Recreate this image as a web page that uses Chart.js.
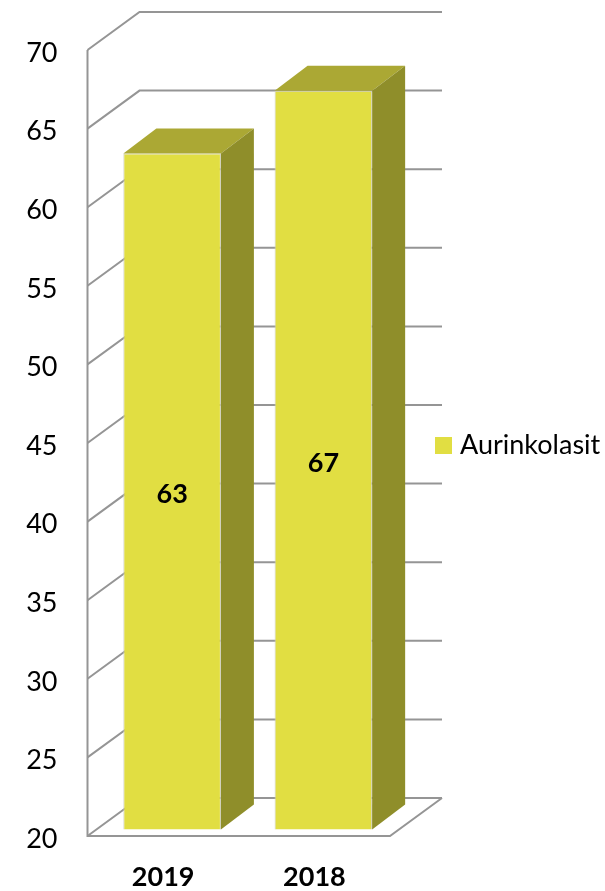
<!DOCTYPE html>
<html>
<head>
<meta charset="utf-8">
<style>
html, body { margin: 0; padding: 0; background: #fff; }
canvas { display: block; }
</style>
<script src="https://cdn.jsdelivr.net/npm/chart.js@4"></script>
</head>
<body>
<canvas id="myChart" width="605" height="891"></canvas>
<script>
const years = ['2019', '2018']
const sunglasses = [63, 67]
const series_name = 'Aurinkolasit'

const FRONT = '#e1de42'
const TOP = '#aba834'
const SIDE = '#8f8e2a'
const GRID = '#959595'
const FONT = 'Lato'

// depth of the back wall and of the bars, in pixels
const WALL = { x: 52, y: 38 }
const BAR_SHIFT = { x: 9, y: 6.5 }
const BAR_DEPTH = { x: 33, y: 25 }

function poly(ctx, pts, fill) {
    ctx.beginPath()
    pts.forEach((p, i) => i ? ctx.lineTo(p[0], p[1]) : ctx.moveTo(p[0], p[1]))
    if (fill) {
        ctx.fillStyle = fill
        ctx.closePath()
        ctx.fill()
    } else {
        ctx.stroke()
    }
}

const walls = {
    id: 'walls',
    beforeLayout(chart) {
        // fixed legend column, so the plot keeps its width
        if (chart.legend && !chart.legend.fixed) {
            const fit = chart.legend.fit
            chart.legend.fit = function () {
                fit.call(this)
                this.width = 215
            }
            chart.legend.fixed = true
        }
    },
    afterLayout(chart) {
        // the top padding pushes the legend down, move it back up
        chart.legend.top -= 25
        chart.legend.bottom -= 25
    },
    beforeDatasetsDraw(chart) {
        const ctx = chart.ctx
        const a = chart.chartArea
        const y_scale = chart.scales.y
        ctx.save()
        ctx.strokeStyle = GRID
        ctx.lineWidth = 2
        y_scale.ticks.forEach(t => {
            const y = y_scale.getPixelForValue(t.value)
            poly(ctx, [[a.left, y], [a.left + WALL.x, y - WALL.y], [a.right + WALL.x, y - WALL.y]])
        })
        poly(ctx, [[a.left, a.top], [a.left, a.bottom], [a.right, a.bottom], [a.right + WALL.x, a.bottom - WALL.y]])
        ctx.restore()
    },
    beforeDatasetDraw(chart) {
        chart.ctx.save()
        chart.ctx.translate(BAR_SHIFT.x, -BAR_SHIFT.y)
    },
    afterDatasetDraw(chart) {
        chart.ctx.restore()
    },
    afterDatasetsDraw(chart) {
        const ctx = chart.ctx
        const meta = chart.getDatasetMeta(0)
        ctx.save()
        ctx.translate(BAR_SHIFT.x, -BAR_SHIFT.y)
        meta.data.forEach((bar, i) => {
            const left = bar.x - bar.width / 2
            const right = bar.x + bar.width / 2
            const dx = BAR_DEPTH.x
            const dy = BAR_DEPTH.y
            poly(ctx, [[left, bar.y], [left + dx, bar.y - dy], [right + dx, bar.y - dy], [right, bar.y]], TOP)
            poly(ctx, [[right, bar.y], [right + dx, bar.y - dy], [right + dx, bar.base - dy], [right, bar.base]], SIDE)
            ctx.fillStyle = '#000'
            ctx.font = 'bold 27px ' + FONT
            ctx.textAlign = 'center'
            ctx.textBaseline = 'middle'
            ctx.fillText(sunglasses[i], bar.x, (bar.y + bar.base) / 2 + 3)
        })
        ctx.restore()
    }
}

new Chart(document.getElementById('myChart'), {
    type: 'bar',
    data: {
        labels: years,
        datasets: [{
            label: series_name,
            data: sunglasses,
            base: 20,
            backgroundColor: FRONT,
            borderColor: '#cfcfc0',
            borderWidth: 1,
            barPercentage: 0.645,
            categoryPercentage: 1,
            clip: false
        }]
    },
    options: {
        responsive: false,
        animation: false,
        layout: { padding: { top: 50, left: 0, right: 0, bottom: 0 } },
        plugins: {
            tooltip: { enabled: false },
            legend: {
                position: 'right',
                labels: {
                    color: '#000',
                    font: { family: FONT, size: 27 },
                    boxWidth: 6,
                    boxHeight: 6,
                    padding: 50.5,
                    generateLabels: c => [{
                        text: series_name,
                        fillStyle: FRONT,
                        strokeStyle: FRONT,
                        lineWidth: 11,
                        datasetIndex: 0
                    }]
                }
            }
        },
        scales: {
            x: {
                grid: { display: false },
                border: { display: false },
                ticks: { color: '#000', font: { family: FONT, size: 27, weight: 'bold' }, padding: 17 },
                afterFit: s => { s.height = 55 }
            },
            y: {
                min: 20,
                max: 70,
                grid: { display: false },
                border: { display: false },
                ticks: { stepSize: 5, color: '#000', font: { family: FONT, size: 27 }, padding: 22, labelOffset: 3 },
                afterFit: s => { s.width = 87.5 }
            }
        }
    },
    plugins: [walls]
})
</script>
</body>
</html>
